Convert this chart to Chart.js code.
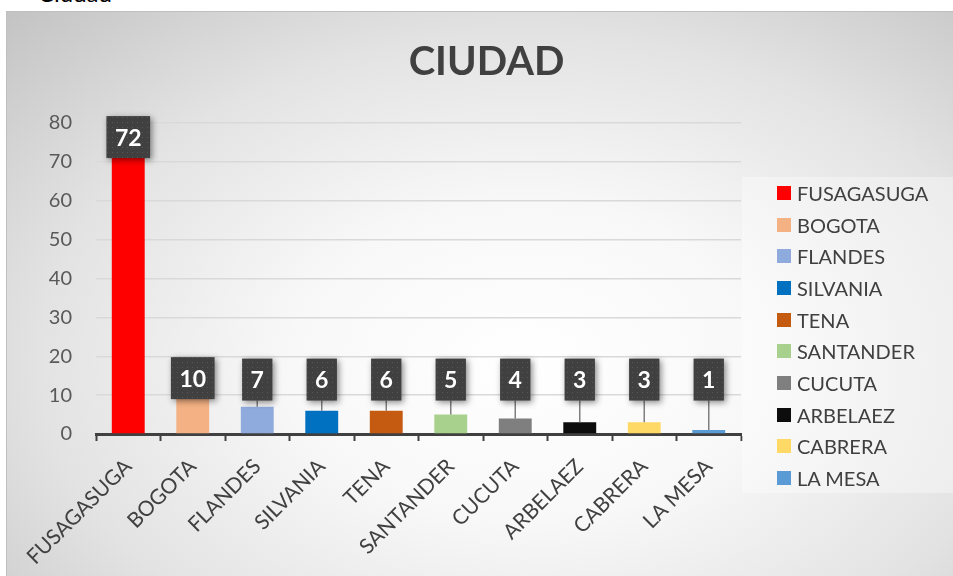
<!DOCTYPE html>
<html>
<head>
<meta charset="utf-8">
<script src="https://cdn.jsdelivr.net/npm/chart.js@4/dist/chart.umd.min.js"></script>
<style>
    html, body {
        margin: 0;
        padding: 0;
        width: 953px;
        height: 576px;
        overflow: hidden;
        background: #ffffff;
        font-family: Lato, 'Liberation Sans', sans-serif;
    }
    .page-heading {
        position: absolute;
        left: 38px;
        top: -22px;
        font-size: 24px;
        color: #000000;
    }
    .chart-frame {
        position: absolute;
        left: 6px;
        top: 11px;
        width: 947px;
        height: 565px;
        border-left: 1px solid #bfbfbf;
        border-top: 1px solid #bfbfbf;
        box-sizing: border-box;
        background: radial-gradient(ellipse farthest-corner at 55% 62%, #ffffff 0%, #f8f8f8 32%, #e3e3e3 66%, #c3c3c3 100%);
    }
    #ciudadChart {
        position: absolute;
        left: 0;
        top: 0;
    }
    .chart-legend {
        position: absolute;
        left: 742px;
        top: 177px;
        width: 211px;
        height: 316px;
        background: rgba(255, 255, 255, .35);
        margin: 0;
        padding: 0 0 0 35px;
        box-sizing: border-box;
        list-style: none;
    }
    .chart-legend li {
        display: flex;
        align-items: center;
        height: 31.7px;
        font-size: 20px;
        color: #404040;
    }
    .chart-legend span {
        display: inline-block;
        width: 14px;
        height: 14px;
        margin-right: 6px;
    }
</style>
</head>
<body>
<div class="page-heading">Ciudad</div>
<div class="chart-frame"></div>
<canvas id="ciudadChart" width="953" height="576"></canvas>
<ul class="chart-legend" id="ciudadLegend"></ul>
<script>
const ciudades = ['FUSAGASUGA', 'BOGOTA', 'FLANDES', 'SILVANIA', 'TENA', 'SANTANDER', 'CUCUTA', 'ARBELAEZ', 'CABRERA', 'LA MESA'];
const personas = [72, 10, 7, 6, 6, 5, 4, 3, 3, 1];
const yTicks = [0, 10, 20, 30, 40, 50, 60, 70, 80];

const barColors = ['#ff0000', '#f4b183', '#8faadc', '#0070c0', '#c55a11', '#a9d18e', '#7f7f7f', '#0d0d0d', '#ffd966', '#5b9bd5'];
const chartText = '#404040';
const chartGrid = '#d9d9d9';

// dotted dark fill for the value boxes
const makeDotPattern = (ctx) => {
    const tile = document.createElement('canvas');
    tile.width = 5;
    tile.height = 5;
    const t = tile.getContext('2d');
    t.fillStyle = '#404040';
    t.fillRect(0, 0, 5, 5);
    t.fillStyle = '#575757';
    t.fillRect(2, 2, 1, 1);
    return ctx.createPattern(tile, 'repeat');
};

const valueBoxes = {
    id: 'valueBoxes',
    afterDatasetsDraw(chart) {
        const {ctx} = chart;
        const yScale = chart.scales.y;
        const meta = chart.getDatasetMeta(0);
        const pattern = makeDotPattern(ctx);
        const lowest = yScale.getPixelForValue(14);

        meta.data.forEach((bar, i) => {
            const text = String(personas[i]);
            ctx.save();
            ctx.font = 'bold 23px Lato, sans-serif';
            const w = ctx.measureText(text).width + 17;
            const h = 42;
            const cy = Math.min(bar.y - 17, lowest);
            const top = cy - h / 2;

            if (top + h < bar.y) {
                ctx.strokeStyle = '#7f7f7f';
                ctx.lineWidth = 1.5;
                ctx.beginPath();
                ctx.moveTo(bar.x, top + h);
                ctx.lineTo(bar.x, bar.y);
                ctx.stroke();
            }

            ctx.shadowColor = 'rgba(0,0,0,.45)';
            ctx.shadowBlur = 6;
            ctx.shadowOffsetX = 2;
            ctx.shadowOffsetY = 2;
            ctx.fillStyle = pattern;
            ctx.fillRect(bar.x - w / 2, top, w, h);
            ctx.shadowColor = 'transparent';

            ctx.fillStyle = '#ffffff';
            ctx.textAlign = 'center';
            ctx.textBaseline = 'middle';
            ctx.fillText(text, bar.x, cy + 1);
            ctx.restore();
        });
    },
};

const ctx1 = document.getElementById('ciudadChart');

const ciudadChart = new Chart(ctx1, {
    type: 'bar',
    data: {
        labels: ciudades,
        datasets: [{
            label: 'Ciudad',
            data: personas,
            backgroundColor: barColors,
            categoryPercentage: 1,
            barPercentage: 0.51,
        }],
    },
    options: {
        responsive: false,
        animation: false,
        devicePixelRatio: 1,
        layout: {
            padding: {top: 38, right: 0, bottom: 0, left: 20},
        },
        plugins: {
            legend: {display: false},
            tooltip: {enabled: false},
            title: {
                display: true,
                text: 'CIUDAD',
                color: chartText,
                font: {family: 'Lato', size: 40, weight: 'bold', lineHeight: 1.2},
                padding: {top: 0, bottom: 37},
            },
        },
        scales: {
            x: {
                afterFit: (scale) => { scale.height = 142; },
                ticks: {
                    color: chartText,
                    font: {family: 'Lato', size: 21},
                    minRotation: 45,
                    maxRotation: 45,
                    autoSkip: false,
                    padding: 13,
                },
                grid: {
                    offset: true,
                    drawOnChartArea: false,
                    drawTicks: true,
                    tickLength: 7,
                    tickWidth: 2,
                    tickColor: chartText,
                },
                border: {color: chartText, width: 3},
            },
            y: {
                min: 0,
                max: 80,
                afterFit: (scale) => { scale.width = 76; },
                afterBuildTicks: (scale) => { scale.ticks = yTicks.map((v) => ({value: v})); },
                ticks: {
                    color: '#595959',
                    font: {family: 'Lato', size: 20},
                    padding: 24,
                },
                grid: {
                    color: chartGrid,
                    lineWidth: 1.5,
                    drawTicks: false,
                },
                border: {display: false},
            },
            // empty right axis that keeps room for the legend
            legendRoom: {
                position: 'right',
                afterFit: (scale) => { scale.width = 212; },
                ticks: {display: false},
                grid: {display: false},
                border: {display: false},
            },
        },
    },
    plugins: [valueBoxes],
});

const legendList = document.getElementById('ciudadLegend');

ciudades.forEach((name, i) => {
    const item = document.createElement('li');
    const swatch = document.createElement('span');
    swatch.style.background = barColors[i];
    item.append(swatch, name);
    legendList.append(item);
});
</script>
</body>
</html>
